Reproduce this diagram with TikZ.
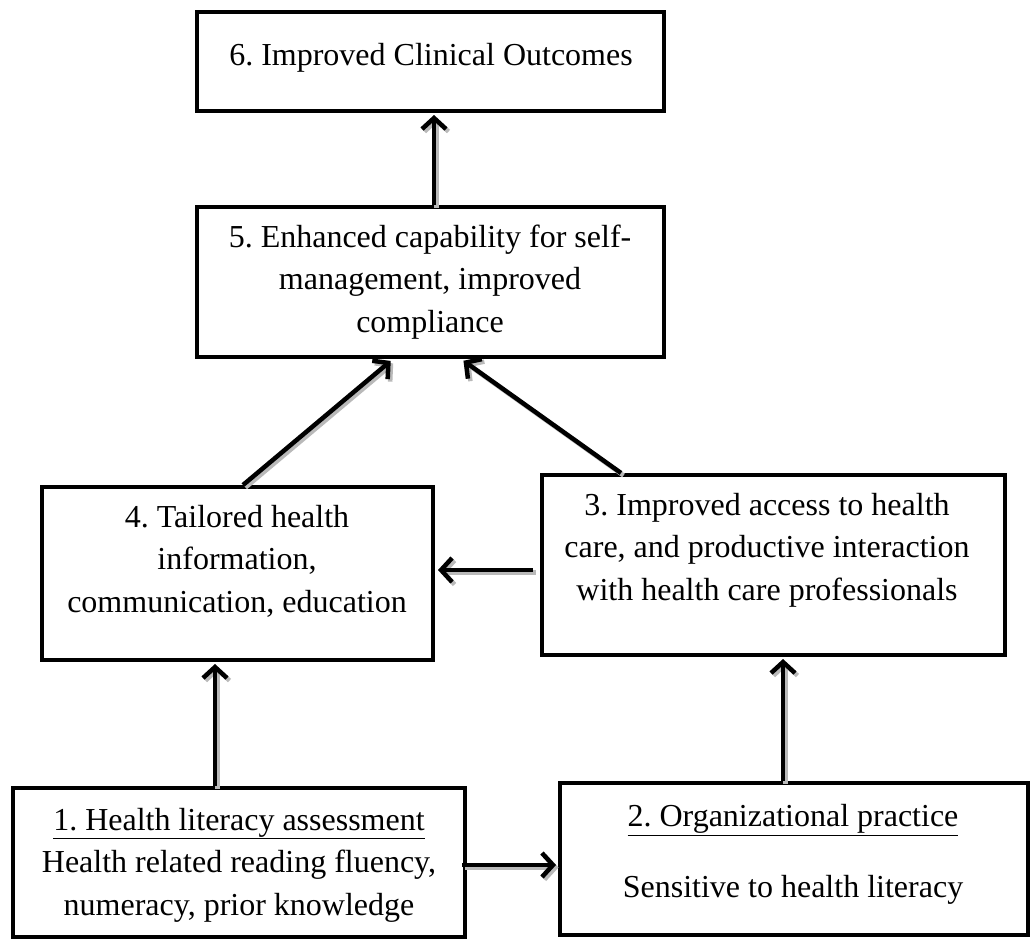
\documentclass[tikz,border=0pt]{standalone}
\usepackage{fontspec}
\setmainfont{Liberation Serif}
\usetikzlibrary{arrows.meta}
\begin{document}
\frenchspacing
\begin{tikzpicture}[x=1pt,y=-1pt,
  box/.style={draw=black,line width=4pt,rectangle,inner sep=0pt},
  txt/.style={align=center,inner sep=0pt,font=\fontsize{32}{42.5}\selectfont},
  arr/.style={line width=4.5pt,-{Straight Barb[length=11pt,width=24pt,line width=4.5pt]},
    preaction={draw=gray!55,line width=4.5pt,-{Straight Barb[length=11pt,width=24pt,line width=4.5pt]},
      transform canvas={xshift=2.5pt,yshift=-2.5pt}}}]
\useasboundingbox (0,0) rectangle (1035,940);
\fill[white] (0,0) rectangle (1035,940);
% boxes
\node[box,minimum width=467pt,minimum height=99pt] (b6) at (430.5,61.5) {};
\node[box,minimum width=467pt,minimum height=150pt] (b5) at (430.5,282) {};
\node[box,minimum width=391pt,minimum height=173pt] (b4) at (237.5,573.5) {};
\node[box,minimum width=463pt,minimum height=180pt] (b3) at (773.5,565) {};
\node[box,minimum width=452pt,minimum height=149pt] (b1) at (239,862.5) {};
\node[box,minimum width=468pt,minimum height=152pt] (b2) at (794,859) {};
% texts
\node[txt] (t6) at (431,58) {6. Improved Clinical Outcomes};
\node[txt] (t5) at (430,282) {5. Enhanced capability for self-\\management, improved\\compliance};
\node[txt] (t4) at (237,561) {4. Tailored health\\information,\\communication, education};
\node[txt] (t3) at (767,550) {3. Improved access to health\\care, and productive interaction\\with health care professionals};
\node[txt] (t1) at (239,865) {\underline{1. Health literacy assessment}\\Health related reading fluency,\\numeracy, prior knowledge};
\node[txt] (t2a) at (793,820) {\underline{2. Organizational practice}};
\node[txt] (t2b) at (793,890) {Sensitive to health literacy};
% arrows
\draw[arr,shorten >=2pt] ([xshift=3.5pt]b5.north) -- ([xshift=3.5pt]b6.south);
\draw[arr,shorten >=3pt] ([xshift=203pt]b4.north west) -- ([xshift=198pt]b5.south west);
\draw[arr,shorten >=3pt] ([xshift=81pt]b3.north west) -- ([xshift=266pt]b5.south west);
\draw[arr,shorten <=7pt,shorten >=3pt] ([yshift=-5pt]b3.west) -- ([yshift=-5pt]b3.west -| b4.east);
\draw[arr,shorten >=2pt] ([xshift=-24pt]b1.north) -- ([xshift=-24pt]b1.north |- b4.south);
\draw[arr,shorten >=2pt] ([xshift=-11pt]b2.north) -- ([xshift=-11pt]b2.north |- b3.south);
\draw[arr,shorten <=-5pt,shorten >=2pt] ([yshift=-2.5pt]b1.east) -- ([yshift=-2.5pt]b1.east -| b2.west);
\end{tikzpicture}
\end{document}
